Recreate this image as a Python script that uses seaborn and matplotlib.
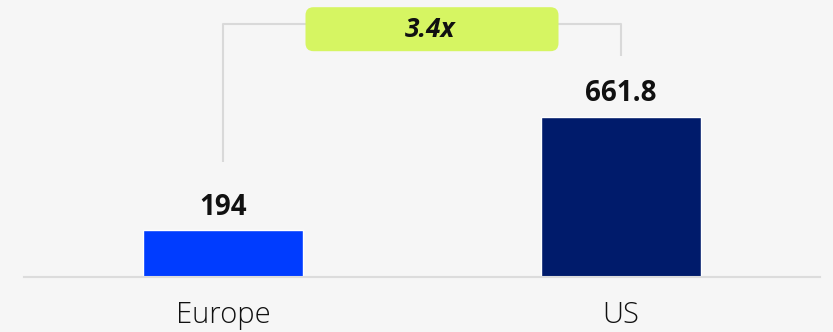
import matplotlib
matplotlib.use("Agg")
import matplotlib.pyplot as plt
from matplotlib.patches import FancyBboxPatch
from matplotlib.transforms import IdentityTransform
import seaborn as sns
import pandas as pd

regions = ["Europe", "US"]
values = [194, 661.8]
value_labels = ["194", "661.8"]
bar_colors = ["#003cff", "#001b6b"]
ratio_label = "3.4x"

BG = "#f6f6f6"
sns.set_theme(style="white")
plt.rcParams["font.family"] = ["Open Sans", "DejaVu Sans"]

df = pd.DataFrame({"region": regions, "value": values})

fig = plt.figure(figsize=(8.33, 3.32), dpi=100, facecolor=BG)
ax = fig.add_axes([24 / 833, 55 / 332, 796 / 833, 277 / 332])
ax.set_facecolor(BG)

sns.barplot(data=df, x="region", y="value", hue="region", palette=bar_colors,
            width=0.40, legend=False, ax=ax, saturation=1)

ax.set_xlim(-0.5, 1.5)
ax.set_ylim(0, 1145)

for i, (v, lab) in enumerate(zip(values, value_labels)):
    ax.text(i, v + 35, lab, ha="center", va="bottom", fontsize=20,
            fontweight="bold", color="#111111")

# comparison bracket linking the two bars
top = 1045
ax.plot([0, 0, 1, 1], [values[0] + 280, top, top, values[1] + 250],
        color="#d9d9d9", lw=1.5, solid_capstyle="butt", zorder=1)

# ratio badge, sized in pixels near the bracket's midpoint
cx, cy = ax.transData.transform((0.5, top))
cx += 10
cy -= 5
bw, bh, r = 253, 44, 8
badge = FancyBboxPatch((cx - bw / 2, cy - bh / 2), bw, bh,
                       boxstyle=f"round,pad=0,rounding_size={r}",
                       transform=IdentityTransform(),
                       facecolor="#d6f562", edgecolor="none", zorder=2)
ax.add_artist(badge)
ax.text(cx - 2, cy, ratio_label, transform=IdentityTransform(),
        ha="center", va="center", fontsize=19,
        fontweight="bold", fontstyle="italic", color="#111111", zorder=3)

ax.set_xlabel("")
ax.set_ylabel("")
ax.set_yticks([])
ax.tick_params(axis="x", length=0, pad=17, labelsize=21, colors="#111111")
for t in ax.get_xticklabels():
    t.set_fontweight("light")
for s in ["top", "right", "left"]:
    ax.spines[s].set_visible(False)
ax.spines["bottom"].set_color("#dcdcdc")
ax.spines["bottom"].set_linewidth(1.5)

fig.savefig("out.png", dpi=100, facecolor=BG)
